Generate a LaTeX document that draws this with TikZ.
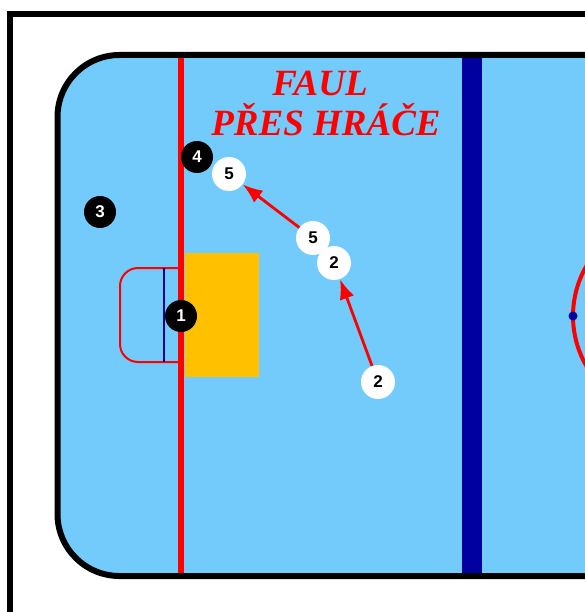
\documentclass[tikz,border=0pt]{standalone}
\usepackage{fontspec}
\setmainfont{Liberation Serif}
\newfontfamily\numfont{Liberation Sans}
\usetikzlibrary{arrows.meta}
\definecolor{rinkblue}{RGB}{115,203,252}
\definecolor{lineblue}{RGB}{0,0,160}
\definecolor{creasey}{RGB}{255,192,0}
\definecolor{hred}{RGB}{255,0,0}
\tikzset{
  whitep/.style={circle, fill=white, minimum size=34pt, inner sep=0pt, font=\numfont\bfseries\fontsize{17}{17}\selectfont, text=black},
  blackp/.style={circle, fill=black, minimum size=32pt, inner sep=0pt, font=\numfont\bfseries\fontsize{17}{17}\selectfont, text=white},
  arr/.style={draw=hred, line width=2.8pt, -{Latex[length=20pt,width=15pt]}},
  titletext/.style={text=hred, font=\itshape\fontsize{37}{37}\selectfont, inner sep=0pt, anchor=base}
}
\begin{document}
\begin{tikzpicture}[x=1pt,y=-1pt]
\useasboundingbox (0,0) rectangle (585,612);
\clip (0,0) rectangle (585,612);
\fill[white] (0,0) rectangle (585,612);
% outer frame
\draw[line width=6pt] (10,14.5) rectangle (700,700);
% rink fill
\fill[rinkblue, rounded corners=62pt] (57.5,55) rectangle (800,576);
% red goal line
\draw[hred, line width=6.5pt] (181,55) -- (181,576);
% blue line
\fill[lineblue] (462,55) rectangle (482,576);
% goal crease (yellow)
\fill[creasey] (185,253) rectangle (259,377);
% goal
\draw[hred, line width=2pt, rounded corners=18pt] (178,268) -- (120,268) -- (120,362) -- (178,362);
\draw[lineblue, line width=1.5pt] (164,268) -- (164,362);
% center circle
\draw[hred, line width=4pt] (673,316) circle[radius=100pt];
\fill[lineblue] (573,316) circle[radius=4.5pt];
% rink border
\draw[line width=6pt, rounded corners=62pt] (57.5,55) rectangle (800,576);
% title
\node[titletext] (t1) at (320,96) {\textbf{FAUL}};
\node[titletext] (t2) at (326,136) {\textbf{PŘES HRÁČE}};
% players
\node[blackp] (b3) at (100,212) {3};
\node[blackp] (b4) at (197,157) {4};
\node[blackp] (b1) at (181,316) {1};
\node[whitep] (w5a) at (229,174) {5};
\node[whitep] (w5b) at (313,238) {5};
\node[whitep] (w2a) at (334,263) {2};
\node[whitep] (w2b) at (378,382) {2};
% arrows
\draw[arr] (w5b) -- (w5a);
\draw[arr] (w2b) -- (w2a);
\end{tikzpicture}
\end{document}
